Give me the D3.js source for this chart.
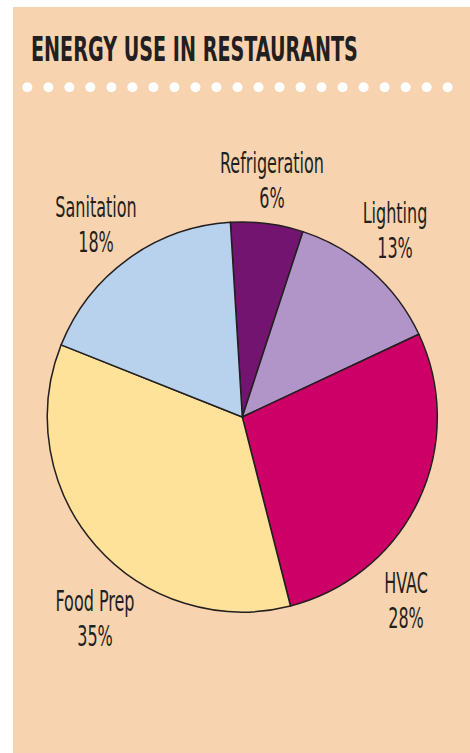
<!DOCTYPE html>
<html><head><meta charset="utf-8">
<script src="https://cdn.jsdelivr.net/npm/d3@7"></script>
<style>
html,body{margin:0;padding:0;background:#fff;}
svg{display:block;}
</style>
</head><body>
<script>
// ---- data ----
const categories = ["Refrigeration", "Lighting", "HVAC", "Food Prep", "Sanitation"];
const values = [6, 13, 28, 35, 18];
const colors = ["#731470", "#B194C8", "#CC0066", "#FFE29A", "#B8D2EE"];
const title = "ENERGY USE IN RESTAURANTS";

// ---- layout (not data) ----
const W = 470, H = 753;
const bg = "#F8D3AF";
const cx = 242.3, cy = 417, R = 195;
const startDeg = -3.5;
// label anchor: center x, first-line baseline y
const labelPos = [[272, 173], [395, 223], [406, 593], [95, 611], [96, 217]];
const lineGap = 35;
const fontFam = "'DejaVu Sans Condensed','Liberation Sans Narrow',sans-serif";

const svg = d3.select("body").append("svg").attr("width", W).attr("height", H);
svg.append("rect").attr("x", 13).attr("y", 7).attr("width", W - 13).attr("height", H - 7).attr("fill", bg);

const tg = svg.append("g");
const tt = tg.append("text")
  .attr("x", 0).attr("y", 61)
  .attr("font-family", fontFam)
  .attr("font-weight", "bold").attr("font-size", 33)
  .attr("fill", "#231f20")
  .text(title);
const tLen = tt.node().getComputedTextLength();
tg.attr("transform", `translate(31,0) scale(${327 / tLen},1)`);

// dotted rule
const dotX = d3.scaleLinear().domain([0, 20]).range([27.3, 447.7]);
svg.append("g").selectAll("circle").data(d3.range(21)).join("circle")
  .attr("cx", d => dotX(d)).attr("cy", 87.3).attr("r", 5).attr("fill", "#fff");

const data = categories.map((c, i) => ({ name: c, value: values[i], color: colors[i] }));
const pie = d3.pie().value(d => d.value).sort(null)
  .startAngle(startDeg * Math.PI / 180).endAngle((startDeg + 360) * Math.PI / 180);
const arc = d3.arc().innerRadius(0).outerRadius(R);

const g = svg.append("g").attr("transform", `translate(${cx},${cy})`);
g.selectAll("path").data(pie(data)).join("path")
  .attr("d", arc).attr("fill", d => d.data.color)
  .attr("stroke", "#231f20").attr("stroke-width", 1.5).attr("stroke-linejoin", "round");

const lab = svg.append("g")
  .attr("font-family", fontFam)
  .attr("font-size", 29).attr("fill", "#231f20").attr("text-anchor", "middle");
// measure a reference word to get a uniform horizontal squeeze
const probe = lab.append("text").text("Refrigeration");
const sx = 104 / probe.node().getComputedTextLength();
probe.remove();
data.forEach((d, i) => {
  const [x, y] = labelPos[i];
  const t = lab.append("g").attr("transform", `translate(${x},0) scale(${sx},1)`);
  t.append("text").attr("x", 0).attr("y", y).text(d.name);
  t.append("text").attr("x", 0).attr("y", y + lineGap).text(d.value + "%");
});
</script>
</body></html>
